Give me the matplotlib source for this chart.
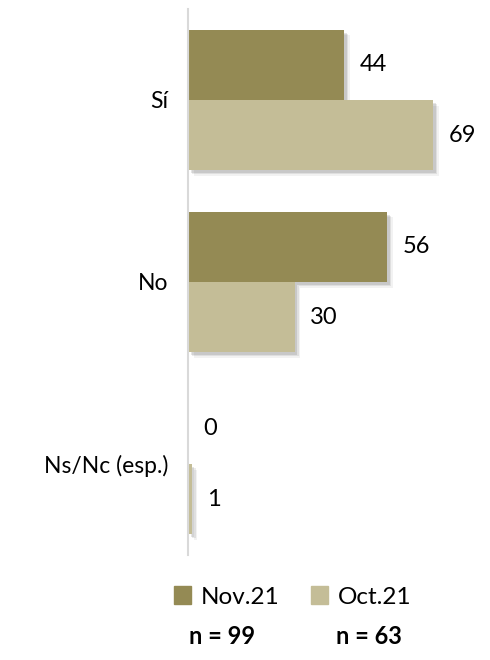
import matplotlib.pyplot as plt
import matplotlib.patheffects as pe
from matplotlib.patches import Patch
import numpy as np

plt.rcParams['font.family'] = ['Lato', 'DejaVu Sans']

categorias = ["Sí", "No", "Ns/Nc (esp.)"]
nov21 = [44, 56, 0]
oct21 = [69, 30, 1]
series = ["Nov.21", "Oct.21"]
muestras = ["n = 99", "n = 63"]

color_nov = "#948A54"
color_oct = "#C4BD97"

fig = plt.figure(figsize=(4.9, 6.6), dpi=100)
ax = fig.add_axes([188 / 490, 105 / 660, 1 - 188 / 490, 546 / 660])

y = np.arange(len(categorias))
alto = 0.385

# sombra difusa bajo cada barra
sombra = [
    pe.SimplePatchShadow(offset=(4, -4), shadow_rgbFace="#000000", alpha=0.05),
    pe.SimplePatchShadow(offset=(3, -3), shadow_rgbFace="#000000", alpha=0.08),
    pe.SimplePatchShadow(offset=(2, -2), shadow_rgbFace="#000000", alpha=0.10),
    pe.Normal(),
]

b1 = ax.barh(y - alto / 2, nov21, height=alto, color=color_nov, path_effects=sombra)
b2 = ax.barh(y + alto / 2, oct21, height=alto, color=color_oct, path_effects=sombra)

for barras, valores in ((b1, nov21), (b2, oct21)):
    for barra, v in zip(barras, valores):
        ax.annotate(str(v), (barra.get_width(), barra.get_y() + barra.get_height() / 2),
                    xytext=(11, 0), textcoords="offset points",
                    ha="left", va="center", fontsize=17, color="#000000")

ax.set_xlim(0, 85)
ax.set_ylim(2.5, -0.5)
ax.set_yticks(y)
ax.set_yticklabels(categorias, fontsize=16.5)
ax.tick_params(axis="y", length=0, pad=14)
ax.set_xticks([])
for lado in ["top", "right", "bottom"]:
    ax.spines[lado].set_visible(False)
ax.spines["left"].set_color("#D9D9D9")
ax.spines["left"].set_linewidth(1.5)

handles = [Patch(color=color_nov), Patch(color=color_oct)]
fig.legend(handles, series, loc="center", bbox_to_anchor=(292.5 / 490, 1 - 597 / 660),
           ncol=2, frameon=False, fontsize=17.5, handlelength=0.7, handleheight=0.7,
           handletextpad=0.4, columnspacing=1.3, borderpad=0)

fig.text(222 / 490, 1 - 636 / 660, muestras[0], ha="center", va="center",
         fontsize=17, fontweight="bold")
fig.text(369 / 490, 1 - 636 / 660, muestras[1], ha="center", va="center",
         fontsize=17, fontweight="bold")

fig.savefig("out.png", dpi=100)
